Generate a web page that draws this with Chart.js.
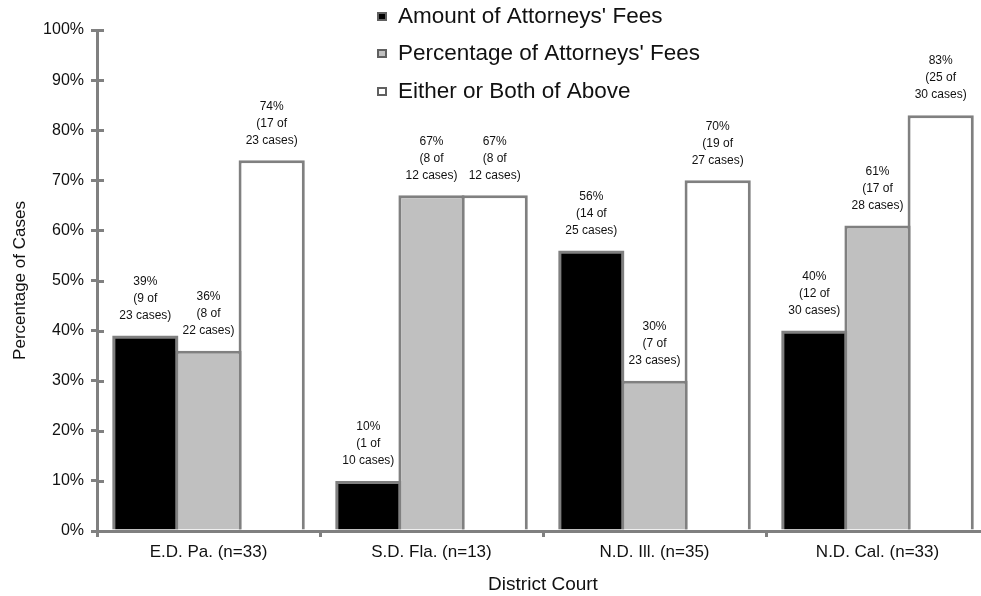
<!DOCTYPE html>
<html><head><meta charset="utf-8">
<script src="https://cdn.jsdelivr.net/npm/chart.js@4"></script>
<style>html,body{margin:0;padding:0;overflow:hidden;background:#fff;width:981px;height:596px}
canvas{display:block}</style></head>
<body><canvas id="c" width="995" height="596"></canvas>
<script>
const categories = ['E.D. Pa. (n=33)', 'S.D. Fla. (n=13)', 'N.D. Ill. (n=35)', 'N.D. Cal. (n=33)'];
const seriesNames = ["Amount of Attorneys' Fees", "Percentage of Attorneys' Fees", 'Either or Both of Above'];
const amountPct = [39, 10, 56, 40];
const amountOf = [9, 1, 14, 12];
const amountCases = [23, 10, 25, 30];
const percentagePct = [36, 67, 30, 61];
const percentageOf = [8, 8, 7, 17];
const percentageCases = [22, 12, 23, 28];
const eitherPct = [74, 67, 70, 83];
const eitherOf = [17, 8, 19, 25];
const eitherCases = [23, 12, 27, 30];
const yTickValues = [0, 10, 20, 30, 40, 50, 60, 70, 80, 90, 100];

const ofCounts = [amountOf, percentageOf, eitherOf];
const caseCounts = [amountCases, percentageCases, eitherCases];
const FONT = '"Liberation Sans", Arial, sans-serif';
const AXIS = '#808080';
const TXT = '#111';

const barLabels = {
  id: 'barLabels',
  afterDatasetsDraw(chart) {
    const ctx = chart.ctx;
    ctx.save();
    ctx.font = '12px ' + FONT;
    ctx.fillStyle = TXT;
    ctx.textAlign = 'center';
    ctx.textBaseline = 'middle';
    chart.data.datasets.forEach((ds, i) => {
      const meta = chart.getDatasetMeta(i);
      meta.data.forEach((bar, j) => {
        const lines = [ds.data[j] + '%', '(' + ofCounts[i][j] + ' of', caseCounts[i][j] + ' cases)'];
        lines.forEach((t, k) => ctx.fillText(t, bar.x, bar.y - 20 - (2 - k) * 17));
      });
    });
    ctx.restore();
  }
};

const innerTicks = {
  id: 'innerTicks',
  afterDraw(chart) {
    const ctx = chart.ctx;
    const y = chart.scales.y;
    ctx.save();
    ctx.strokeStyle = AXIS;
    ctx.lineWidth = 3;
    y.ticks.forEach(t => {
      const py = Math.round(y.getPixelForValue(t.value)) + 0.5;
      ctx.beginPath();
      ctx.moveTo(chart.chartArea.left, py);
      ctx.lineTo(chart.chartArea.left + 7, py);
      ctx.stroke();
    });
    ctx.restore();
  }
};

const legendBox = {
  id: 'legendBox',
  afterDraw(chart) {
    const ctx = chart.ctx;
    ctx.save();
    ctx.font = '22.5px ' + FONT;
    ctx.textBaseline = 'alphabetic';
    ctx.textAlign = 'left';
    const baselines = [23, 60, 98];
    chart.data.datasets.forEach((ds, i) => {
      const b = baselines[i];
      ctx.fillStyle = '#606060';
      ctx.fillRect(377, b - 11, 10, 9);
      ctx.fillStyle = ds.backgroundColor;
      ctx.fillRect(379, b - 9, 6, 5);
      ctx.fillStyle = TXT;
      ctx.fillText(ds.label, 398, b);
    });
    ctx.restore();
  }
};

const colors = ['#000000', '#c0c0c0', '#ffffff'];
const values = [amountPct, percentagePct, eitherPct];

new Chart(document.getElementById('c'), {
  type: 'bar',
  data: {
    labels: categories,
    datasets: seriesNames.map((name, i) => ({
      label: name,
      data: values[i],
      backgroundColor: colors[i],
      borderColor: AXIS,
      borderWidth: 3,
      barPercentage: 1.048,
      categoryPercentage: 0.85
    }))
  },
  options: {
    responsive: false,
    animation: false,
    devicePixelRatio: 1,
    layout: { padding: { top: 30, right: 6, left: 0, bottom: 0 } },
    plugins: { legend: { display: false }, tooltip: { enabled: false } },
    scales: {
      x: {
        afterFit(s) { s.height = 65; },
        grid: { display: true, drawOnChartArea: false, drawTicks: true, tickLength: 6, color: AXIS, lineWidth: 3, offset: true },
        border: { display: true, color: AXIS, width: 3 },
        ticks: { font: { size: 17, family: FONT }, color: TXT, padding: 5, maxRotation: 0 },
        title: { display: true, text: 'District Court', font: { size: 19, family: FONT }, color: TXT, padding: { top: 0, bottom: 0 } }
      },
      y: {
        min: 0, max: 100,
        afterFit(s) { s.width = 97; },
        afterBuildTicks(s) { s.ticks = yTickValues.map(v => ({ value: v })); },
        grid: { display: true, drawOnChartArea: false, drawTicks: true, tickLength: 6, color: AXIS, lineWidth: 3 },
        border: { display: true, color: AXIS, width: 3 },
        ticks: { font: { size: 16, family: FONT }, color: TXT, padding: 7, callback: v => v + '%' },
        title: { display: true, text: 'Percentage of Cases', font: { size: 17, family: FONT }, color: TXT, padding: { top: 10, bottom: 0 } }
      }
    }
  },
  plugins: [barLabels, innerTicks, legendBox]
});
</script>
</body></html>
